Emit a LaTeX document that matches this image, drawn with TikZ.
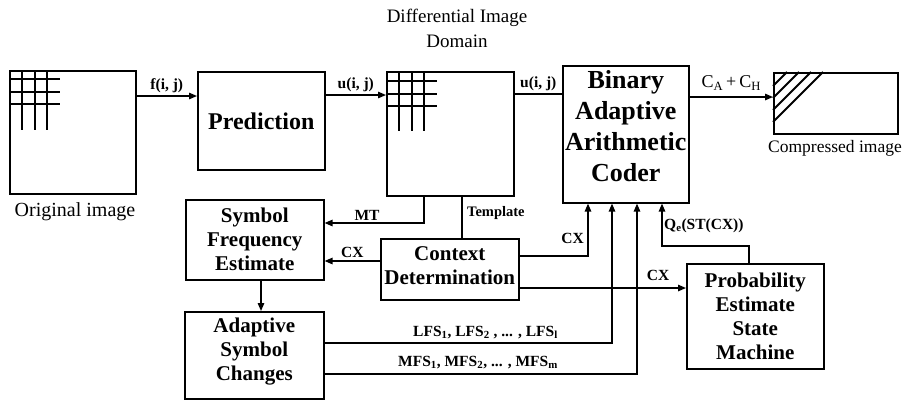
\documentclass[tikz,border=0pt]{standalone}
\usepackage{fontspec}
\setmainfont{Liberation Serif}
\usetikzlibrary{arrows.meta,calc}

\begin{document}
\begin{tikzpicture}[x=1pt,y=-1pt,
  box/.style={draw, line width=1.6pt, anchor=north west, inner sep=0pt, align=center,
    font=\bfseries\fontsize{21}{24}\selectfont},
  btext/.style={align=center, inner sep=0pt, font=\bfseries\fontsize{21}{24}\selectfont},
  conn/.style={line width=1.4pt},
  arr/.style={conn, -{Triangle[length=8pt,width=6.5pt]}},
  lbl/.style={font=\bfseries\fontsize{15.5}{18}\selectfont, inner sep=1pt},
  caption/.style={inner sep=0pt, font=\fontsize{20}{24}\selectfont},
  gridline/.style={line width=2pt}
]
\useasboundingbox (0,0) rectangle (920,400);

% ---------- boxes ----------
\node[box, minimum width=126pt, minimum height=123pt] (orig) at (9,70) {};
\node[box, minimum width=127pt, minimum height=98pt,
      font=\bfseries\fontsize{24}{28}\selectfont] (pred) at (197,71) {Prediction};
\node[box, minimum width=127pt, minimum height=124pt] (diff) at (386,71) {};
\node[box, minimum width=126pt, minimum height=137pt] (coder) at (562,65) {};
\node[btext, font=\bfseries\fontsize{26}{31}\selectfont] (codertext)
      at ($(coder.center)+(0,-8)$) {Binary\\Adaptive\\Arithmetic\\Coder};
\node[box, minimum width=124pt, minimum height=61pt] (comp) at (773,72) {};
\node[box, minimum width=138pt, minimum height=80pt] (sfe) at (185,199)
      {Symbol\\Frequency\\Estimate};
\node[box, minimum width=139pt, minimum height=87pt] (asc) at (184,311) {};
\node[btext] (asctext) at ($(asc.center)+(0,-4)$) {Adaptive\\Symbol\\Changes};
\node[box, minimum width=138pt, minimum height=61pt] (cd) at (380,238) {};
\node[btext] (cdtext) at ($(cd.center)+(0,-4)$) {Context\\Determination};
\node[box, minimum width=137pt, minimum height=105pt] (pesm) at (686,263)
      {Probability\\Estimate\\State\\Machine};

% ---------- grids of the two image boxes ----------
\foreach \dx in {13,26,38} {
  \draw[gridline] ($(orig.north west)+(\dx,0)$) -- ++(0,60);
  \draw[gridline] ($(diff.north west)+(\dx,0)$) -- ++(0,60);
}
\foreach \dy in {9,22,34} {
  \draw[gridline] ($(orig.north west)+(0,\dy)$) -- ++(51,0);
  \draw[gridline] ($(diff.north west)+(0,\dy+1)$) -- ++(51,0);
}

% ---------- hatching of the compressed image ----------
\foreach \d in {14,26,38,50} {
  \draw[line width=1.8pt] ($(comp.north west)+(\d,0)$) -- ($(comp.north west)+(0,\d)$);
}

% ---------- captions ----------
\node[caption] (origcap) at (75,212) {Original image};
\node[caption, font=\fontsize{17.5}{20}\selectfont] (compcap) at (835,148) {Compressed image};
\node[caption, align=center, font=\fontsize{19}{25}\selectfont] (title) at (457,28)
      {Differential Image\\Domain};

% ---------- helper levels ----------
\coordinate (yf) at (0,96);
\coordinate (yu) at (0,95);
\coordinate (yu2) at (0,94);
\coordinate (yc) at (0,97);
\coordinate (mt) at (424,223);
\coordinate (tpl) at (462,0);
\coordinate (cxl) at (0,261);
\coordinate (cxc) at (588,256);
\coordinate (lfs) at (612,343);
\coordinate (mfs) at (637,374);
\coordinate (cxp) at (0,288);
\coordinate (qe) at (662,246);
\coordinate (qx) at (749,0);
\coordinate (fx) at (261,0);

% ---------- connectors ----------
\draw[arr] (orig.east |- yf) -- node[lbl, above=2pt] {f(i, j)} (pred.west |- yf);
\draw[arr] (pred.east |- yu) -- node[lbl, above=2pt] {u(i, j)} (diff.west |- yu);
\draw[conn] (diff.east |- yu2) -- node[lbl, above=2pt] {u(i, j)} (coder.west |- yu2);
\draw[arr] (coder.east |- yc) -- node[above=5pt, inner sep=1pt, font=\fontsize{18}{20}\selectfont]
      {C\textsubscript{A}\,+\,C\textsubscript{H}} (comp.west |- yc);

\draw[arr] (diff.south -| mt) |- (sfe.east |- mt);
\node[lbl, anchor=south] (mtlbl) at (367,222) {MT};
\draw[conn] (diff.south -| tpl) -- (cd.north -| tpl);
\node[lbl, anchor=west, font=\bfseries\fontsize{14.5}{17}\selectfont] (tpllbl) at (466,213) {Template};

\draw[arr] (cd.west |- cxl) -- node[lbl, above=2pt] {CX} (sfe.east |- cxl);
\draw[arr] (cd.east |- cxc) -| (coder.south -| cxc);
\node[lbl, anchor=south east] (cxclbl) at ($(cxc)+(-3,-11)$) {CX};

\draw[arr] (sfe.south -| fx) -- (asc.north -| fx);

\draw[arr] (asc.east |- lfs) -| (coder.south -| lfs);
\node[lbl, anchor=south east] (lfslbl) at (559,340)
      {LFS\textsubscript{1}, LFS\textsubscript{2} , ... , LFS\textsubscript{l}};
\draw[arr] (asc.east |- mfs) -| (coder.south -| mfs);
\node[lbl, anchor=south east] (mfslbl) at (559,370)
      {MFS\textsubscript{1}, MFS\textsubscript{2}, ... , MFS\textsubscript{m}};

\draw[arr] (cd.east |- cxp) -- (pesm.west |- cxp);
\node[lbl] (cxplbl) at (658,275) {CX};

\draw[arr] (pesm.north -| qx) |- (qe) -- (coder.south -| qe);
\node[lbl, anchor=west] (qelbl) at (663,226) {Q\textsubscript{e}(ST(CX))};

\end{tikzpicture}
\end{document}
